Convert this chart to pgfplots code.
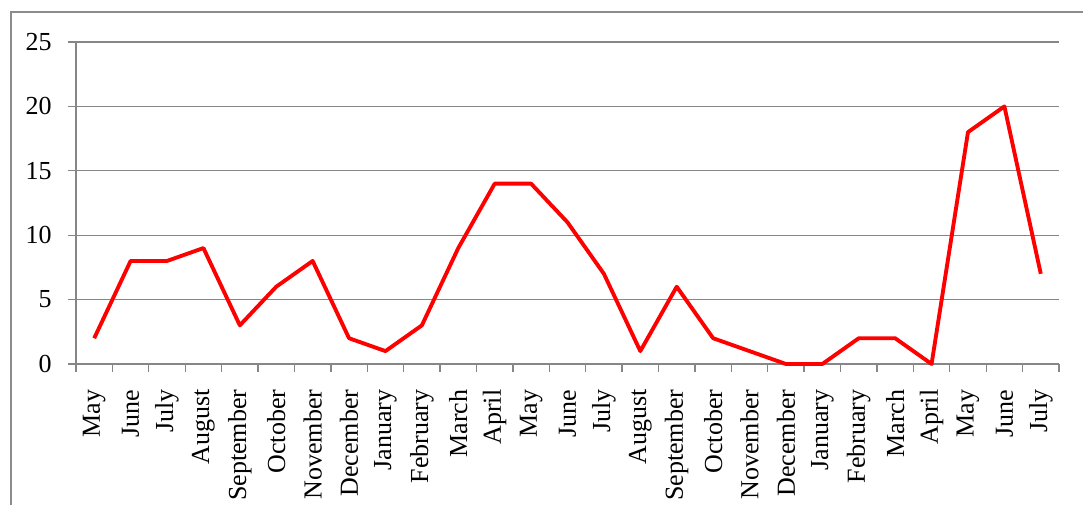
\documentclass[border=0pt]{standalone}
\usepackage{pgfplots}
\pgfplotsset{compat=1.18}
\usepackage{fontspec}
\setmainfont{Liberation Serif}

\definecolor{gridgray}{HTML}{868686}
\definecolor{framegray}{HTML}{8C8C8C}

\begin{document}
\begin{tikzpicture}
  % 1 unit = 0.75pt throughout
  \useasboundingbox (0pt,0pt) rectangle (812.25pt,378.75pt);
  % outer chart frame
  \draw[framegray, line width=1pt] (8.25pt,-10pt) -- (8.25pt,369.75pt) -- (820pt,369.75pt);
  \begin{axis}[
    at={(57pt,105.75pt)}, anchor=south west,
    scale only axis,
    width=737.25pt, height=241.5pt,
    xmin=-0.5, xmax=26.5,
    ymin=0, ymax=25,
    ytick={0,5,...,25},
    xtick={0,...,26},
    xticklabels={May,June,July,August,September,October,November,December,January,February,March,April,May,June,July,August,September,October,November,December,January,February,March,April,May,June,July},
    minor xtick={-0.5,0.5,...,26.5},
    major x tick style={draw=none},
    x tick style={gridgray, line width=1pt},
    y tick style={gridgray, line width=1pt},
    tick align=outside,
    major tick length=6pt,
    minor tick length=6pt,
    axis x line*=bottom,
    axis y line*=left,
    axis line style={gridgray, line width=1pt, -},
    ymajorgrids,
    grid style={gridgray, line width=1pt},
    xticklabel style={rotate=90, anchor=east, font=\fontsize{19.5}{20}\selectfont, inner sep=0pt},
    yticklabel style={font=\fontsize{19.5}{20}\selectfont, inner sep=0pt},
    /pgf/number format/assume math mode=true,
    xticklabel shift=13pt,
    yticklabel shift=12pt,
    clip=false,
  ]
    \addplot[red, line width=2.9pt, mark=none, line join=round] coordinates {
      (0,2) (1,8) (2,8) (3,9) (4,3) (5,6) (6,8) (7,2) (8,1) (9,3)
      (10,9) (11,14) (12,14) (13,11) (14,7) (15,1) (16,6) (17,2) (18,1) (19,0)
      (20,0) (21,2) (22,2) (23,0) (24,18) (25,20) (26,7)
    };
  \end{axis}
\end{tikzpicture}
\end{document}
